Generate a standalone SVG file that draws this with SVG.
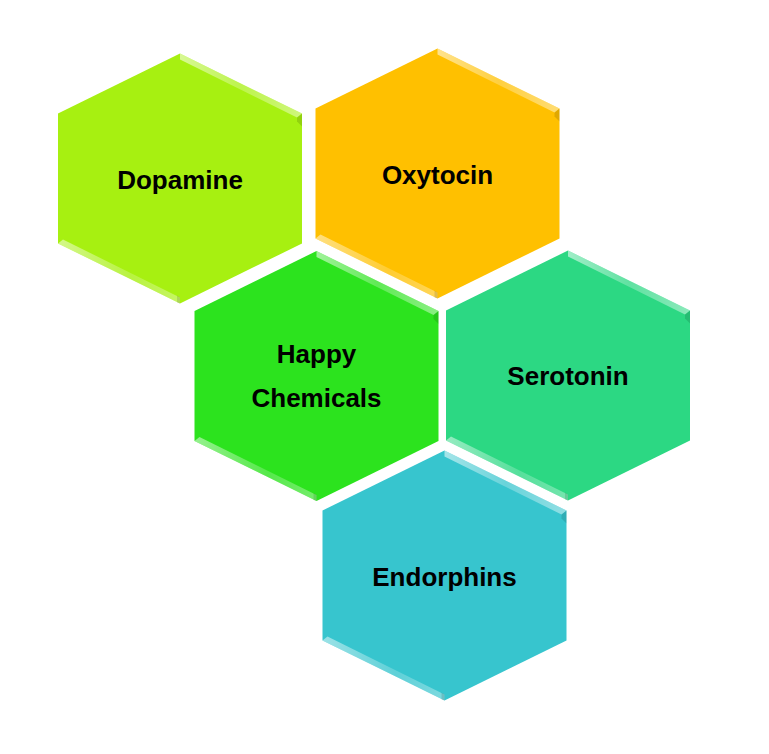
<svg xmlns="http://www.w3.org/2000/svg" width="769" height="754" viewBox="0 0 769 754">
  <defs>
    <polygon id="hex" points="0,-125 122,-65 122,65 0,125 -122,65 -122,-65"/>
    <linearGradient id="hiTR" x1="0" y1="0" x2="1" y2="0">
      <stop offset="0" stop-color="#fff" stop-opacity="0.55"/>
      <stop offset="0.5" stop-color="#fff" stop-opacity="0.25"/>
      <stop offset="1" stop-color="#fff" stop-opacity="0.45"/>
    </linearGradient>
    <linearGradient id="hiBL" x1="0" y1="0" x2="1" y2="0">
      <stop offset="0" stop-color="#fff" stop-opacity="0.5"/>
      <stop offset="0.6" stop-color="#fff" stop-opacity="0.2"/>
      <stop offset="1" stop-color="#fff" stop-opacity="0.35"/>
    </linearGradient>
  </defs>
  <style>
    .lbl { font-family: "Liberation Sans", Arial, sans-serif; font-weight: bold; font-size: 26px; fill: #000; text-anchor: middle; }
    .tr { fill: url(#hiTR); }
    .bl { fill: url(#hiBL); }
    .sh { fill: #000; fill-opacity: 0.12; }
  </style>
  <rect width="769" height="754" fill="#fff"/>
  <g id="connectors"/>
  <g id="dopamine" transform="translate(180,178.5)">
    <use href="#hex" fill="#A7F011"/>
    <polygon class="tr" points="0,-125 122,-65 117,-61 0,-119"/>
    <polygon class="sh" points="122,-65 122,-52 117,-57 117,-61"/>
    <polygon class="bl" points="-122,65 0,125 0,119 -117,61"/>
    <polygon class="sh" points="0,125 0,119 -3,117 -3,124"/>
    <text class="lbl" x="0" y="10">Dopamine</text>
  </g>
  <g id="oxytocin" transform="translate(437.5,173.5)">
    <use href="#hex" fill="#FFC000"/>
    <polygon class="tr" points="0,-125 122,-65 117,-61 0,-119"/>
    <polygon class="sh" points="122,-65 122,-52 117,-57 117,-61"/>
    <polygon class="bl" points="-122,65 0,125 0,119 -117,61"/>
    <polygon class="sh" points="0,125 0,119 -3,117 -3,124"/>
    <text class="lbl" x="0" y="10">Oxytocin</text>
  </g>
  <g id="happy" transform="translate(316.5,376)">
    <use href="#hex" fill="#2CE31E"/>
    <polygon class="tr" points="0,-125 122,-65 117,-61 0,-119"/>
    <polygon class="sh" points="122,-65 122,-52 117,-57 117,-61"/>
    <polygon class="bl" points="-122,65 0,125 0,119 -117,61"/>
    <polygon class="sh" points="0,125 0,119 -3,117 -3,124"/>
    <text class="lbl" x="0" y="-13">Happy</text>
    <text class="lbl" x="0" y="31">Chemicals</text>
  </g>
  <g id="serotonin" transform="translate(568,375.5)">
    <use href="#hex" fill="#2CD883"/>
    <polygon class="tr" points="0,-125 122,-65 117,-61 0,-119"/>
    <polygon class="sh" points="122,-65 122,-52 117,-57 117,-61"/>
    <polygon class="bl" points="-122,65 0,125 0,119 -117,61"/>
    <polygon class="sh" points="0,125 0,119 -3,117 -3,124"/>
    <text class="lbl" x="0" y="9">Serotonin</text>
  </g>
  <g id="endorphins" transform="translate(444.5,575.5)">
    <use href="#hex" fill="#37C5CE"/>
    <polygon class="tr" points="0,-125 122,-65 117,-61 0,-119"/>
    <polygon class="sh" points="122,-65 122,-52 117,-57 117,-61"/>
    <polygon class="bl" points="-122,65 0,125 0,119 -117,61"/>
    <polygon class="sh" points="0,125 0,119 -3,117 -3,124"/>
    <text class="lbl" x="0" y="10">Endorphins</text>
  </g>
</svg>
